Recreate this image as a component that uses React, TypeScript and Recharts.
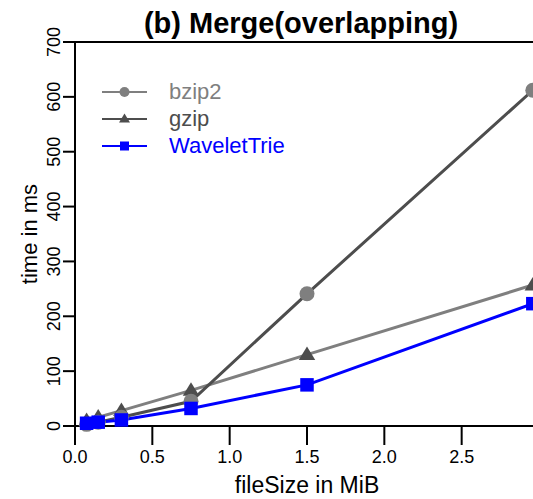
import { LineChart, Line, XAxis, YAxis, Legend, ReferenceLine } from "recharts";

// file sizes in MiB and merge times in ms
const fileSizes = [0.075, 0.15, 0.3, 0.75, 1.5, 2.96];
const bzip2Times = [3, 7, 16, 45, 241, 612];
const gzipTimes = [10, 16, 28, 65, 130, 257];
const waveletTrieTimes = [5, 7, 11, 32, 75, 223];

const xTicks = [0, 0.5, 1, 1.5, 2, 2.5];
const yTicks = [0, 100, 200, 300, 400, 500, 600, 700];

const data = fileSizes.map((x, i) => ({
  x,
  bzip2: bzip2Times[i],
  gzip: gzipTimes[i],
  WaveletTrie: waveletTrieTimes[i],
}));

const DARK = "#4d4d4d";
const GRAY = "#7f7f7f";
const BLUE = "#0000ff";
const FONT = '"Liberation Sans", Arial, Helvetica, sans-serif';

// note: in the original plot the line colours of bzip2/gzip are swapped vs. their markers
const series = [
  { key: "gzip", stroke: GRAY, marker: "triangle", fill: DARK, legendStroke: DARK, text: DARK },
  { key: "bzip2", stroke: DARK, marker: "circle", fill: GRAY, legendStroke: GRAY, text: GRAY },
  { key: "WaveletTrie", stroke: BLUE, marker: "square", fill: BLUE, legendStroke: BLUE, text: BLUE },
];
const legendOrder = ["bzip2", "gzip", "WaveletTrie"];

const marker = (shape: string, fill: string, cx: number, cy: number, s: number, key?: string) => {
  if (shape === "circle") return <circle key={key} cx={cx} cy={cy} r={s * 0.5} fill={fill} />;
  if (shape === "square")
    return <rect key={key} x={cx - s * 0.45} y={cy - s * 0.45} width={s * 0.9} height={s * 0.9} fill={fill} />;
  const h = s * 0.9;
  return (
    <polygon
      key={key}
      points={`${cx},${cy - h * 0.6} ${cx - s * 0.55},${cy + h * 0.4} ${cx + s * 0.55},${cy + h * 0.4}`}
      fill={fill}
    />
  );
};

const makeDot = (shape: string, fill: string) => (props: any) => {
  const { cx, cy, index } = props;
  if (cx == null || cy == null) return <g key={`d-${index}`} />;
  return marker(shape, fill, cx, cy, 15, `d-${shape}-${index}`);
};

// the y axis is hidden; its tick marks and rotated labels (R style) hang on ReferenceLine positions
const yTickLabel = (value: number) => (props: any) => {
  const vb = props.viewBox || {};
  const ax = vb.x ?? 75;
  const y = vb.y ?? 0;
  const tx = ax - 15;
  return (
    <g>
      <line x1={ax - 12} y1={y} x2={ax} y2={y} stroke="#000" strokeWidth={2} />
      <g transform={`translate(${tx}, ${y}) rotate(-90)`}>
        <text x={0} y={0} textAnchor="middle" fontSize={18} fill="#000">
          {value}
        </text>
      </g>
    </g>
  );
};

const yTitle = (props: any) => {
  const vb = props.viewBox || { x: 75, y: 42, height: 384 };
  const cy = vb.y + vb.height / 2;
  return (
    <g transform={`translate(37, ${cy}) rotate(-90)`}>
      <text x={0} y={0} textAnchor="middle" fontSize={22} fill="#000">
        time in ms
      </text>
    </g>
  );
};

const renderLegend = () => (
  <div style={{ fontFamily: FONT }}>
    {legendOrder.map((k) => {
      const s = series.find((d) => d.key === k)!;
      return (
        <div key={k} style={{ display: "flex", alignItems: "center", height: 27 }}>
          <svg width={48} height={20}>
            <line x1={2} y1={10} x2={47} y2={10} stroke={s.legendStroke} strokeWidth={2} />
            {marker(s.marker, s.legendStroke, 24.5, 10, 10)}
          </svg>
          <span style={{ marginLeft: 21, fontSize: 22, color: s.text, lineHeight: "27px" }}>{k}</span>
        </div>
      );
    })}
  </div>
);

export default function App() {
  return (
    <div
      style={{
        position: "fixed",
        left: 0,
        top: 0,
        width: 533,
        height: 499,
        overflow: "hidden",
        background: "#fff",
        fontFamily: FONT,
      }}
    >
      <LineChart width={560} height={499} data={data} margin={{ top: 42, right: 21, bottom: 0, left: 75 }}>
        <XAxis
          type="number"
          dataKey="x"
          domain={[0, 3]}
          ticks={xTicks}
          allowDataOverflow
          height={73}
          tickSize={19}
          tickMargin={5}
          axisLine={{ stroke: "#000", strokeWidth: 2 }}
          tickLine={{ stroke: "#000", strokeWidth: 2 }}
          tick={{ fontSize: 18, fill: "#000" }}
          tickFormatter={(v: number) => v.toFixed(1)}
          label={{ value: "fileSize in MiB", position: "insideBottom", offset: 6, fontSize: 23, fill: "#000" }}
        />
        <YAxis type="number" domain={[0, 700]} ticks={yTicks} hide />
        <ReferenceLine x={0} stroke="#000" strokeWidth={2} label={yTitle} />
        {yTicks.map((v) => (
          <ReferenceLine key={`yl-${v}`} y={v} stroke="none" label={yTickLabel(v)} />
        ))}
        <ReferenceLine y={700} stroke="#000" strokeWidth={2} />
        <ReferenceLine x={3} stroke="#000" strokeWidth={2} />
        <Legend
          layout="vertical"
          align="center"
          verticalAlign="middle"
          content={renderLegend}
          wrapperStyle={{ left: 100, top: 78, width: 220, height: 90 }}
        />
        {series.map((s) => (
          <Line
            key={s.key}
            dataKey={s.key}
            stroke={s.stroke}
            strokeWidth={3}
            dot={makeDot(s.marker, s.fill)}
            activeDot={false}
            isAnimationActive={false}
          />
        ))}
      </LineChart>
      <div
        style={{
          position: "absolute",
          left: 0,
          top: 9,
          width: 602,
          textAlign: "center",
          fontSize: 29,
          lineHeight: "29px",
          fontWeight: "bold",
        }}
      >
        (b) Merge(overlapping)
      </div>
    </div>
  );
}
